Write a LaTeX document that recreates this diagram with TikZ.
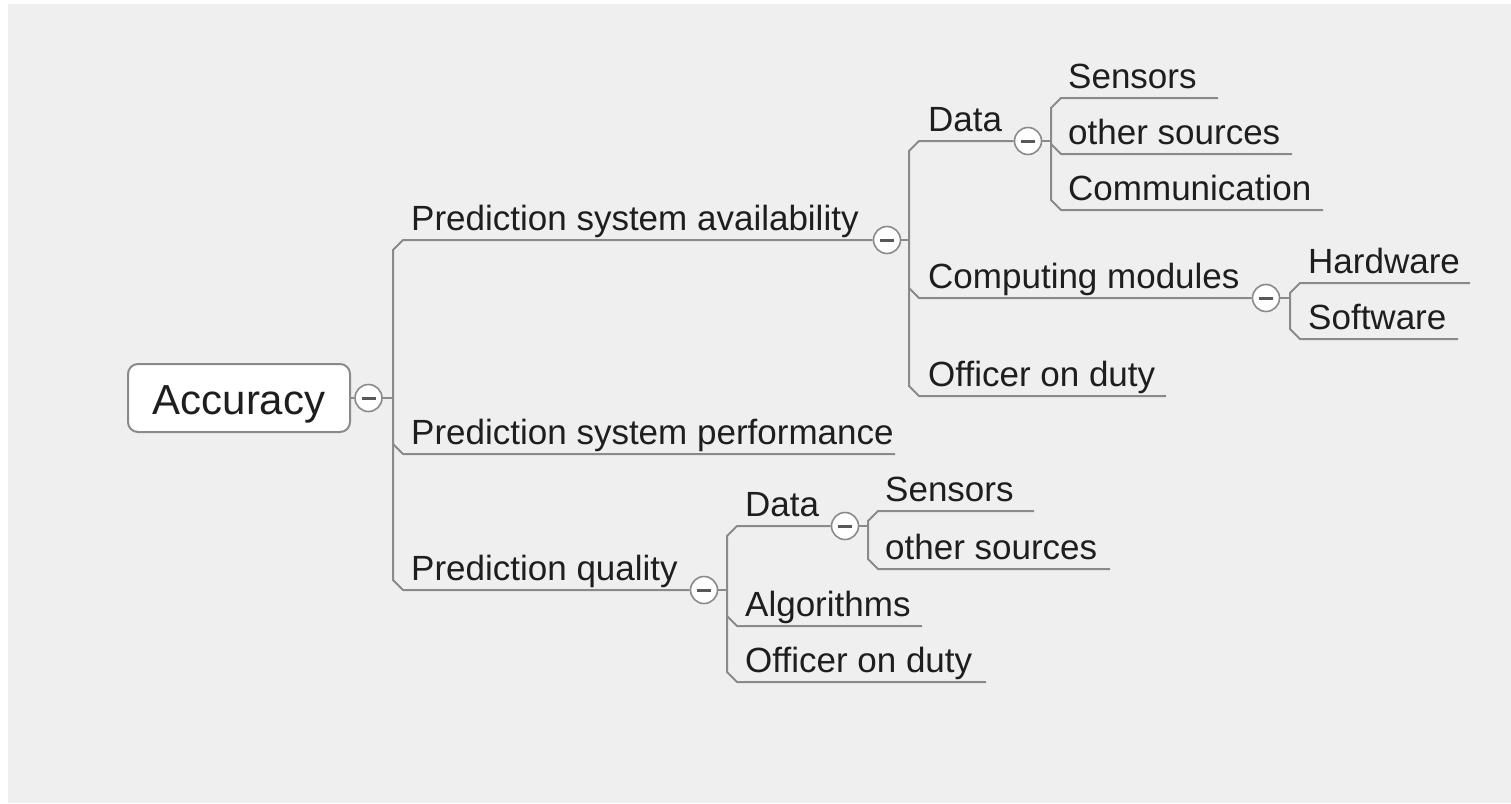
\documentclass[tikz,border=0pt]{standalone}
\usepackage{fontspec}
\setmainfont{Liberation Sans}
\usetikzlibrary{calc}
\definecolor{bg}{HTML}{EFEFEF}
\definecolor{edge}{HTML}{8A8A8A}
\definecolor{ink}{HTML}{1E1E1E}
\definecolor{minus}{HTML}{585858}
\tikzset{
  conn/.style={draw=edge, line width=2pt, line join=round},
  lbl/.style={anchor=base west, inner sep=0pt, text=ink, font=\fontsize{35}{40}\selectfont},
  tog/.style={circle, draw=edge, fill=white, line width=1.6pt, minimum size=27pt, inner sep=0pt,
    path picture={\draw[line width=3pt, draw=minus]
      ([xshift=-7pt]path picture bounding box.center) -- ([xshift=7pt]path picture bounding box.center);}},
  rootbox/.style={draw=edge, line width=2pt, fill=white, rounded corners=10pt,
    minimum width=222pt, minimum height=68pt, inner sep=0pt, text=ink,
    text height=32pt, text depth=0pt, font=\fontsize{42}{48}\selectfont},
}
\begin{document}
\begin{tikzpicture}[x=1pt,y=-1pt]
\useasboundingbox (0,0) rectangle (1511,803);
\fill[white] (0,0) rectangle (1511,803);
\fill[bg] (8,4) rectangle (1511,803);

% central topic
\node[rootbox] (root) at (239,398) {Accuracy};
\node[tog] (t0) at (368.5,398) {};
\coordinate (v0) at (393,398);
\draw[conn] (root.east) -- (t0.west);
\draw[conn] (t0.east) -- (v0);

% first level
\node[tog] (t1) at (887,240) {};
\node[tog] (t2) at (704,590) {};
\coordinate (psa-a) at (403,240);
\coordinate (psp-a) at (403,454);
\coordinate (psp-b) at (895,454);
\coordinate (pq-a) at (403,590);
\draw[conn] (t1.west) -- (psa-a) -- ++(-10,10) -- ([shift={(-10,-10)}]pq-a) -- (pq-a) -- (t2.west);
\draw[conn] ([shift={(-10,-10)}]psp-a) -- (psp-a) -- (psp-b);
\node[lbl] (psa) at ([shift={(8,-9.5)}]psa-a) {Prediction system availability};
\node[lbl] (psp) at ([shift={(8,-9.5)}]psp-a) {Prediction system performance};
\node[lbl] (pq)  at ([shift={(8,-9.5)}]pq-a)  {Prediction quality};

% availability branch
\coordinate (v1) at (909,240);
\draw[conn] (t1.east) -- (v1);
\node[tog] (tA) at (1028,141) {};
\node[tog] (tC) at (1266,298) {};
\coordinate (da-a) at (919,141);
\coordinate (cm-a) at (919,298);
\coordinate (oa-a) at (919,396);
\coordinate (oa-b) at (1166,396);
\draw[conn] (tA.west) -- (da-a) -- ++(-10,10) -- ([shift={(-10,-10)}]oa-a) -- (oa-a) -- (oa-b);
\draw[conn] ([shift={(-10,-10)}]cm-a) -- (cm-a) -- (tC.west);
\node[lbl] (da) at ([shift={(9,-9.5)}]da-a) {Data};
\node[lbl] (cm) at ([shift={(9,-9.5)}]cm-a) {Computing modules};
\node[lbl] (oa) at ([shift={(9,-9.5)}]oa-a) {Officer on duty};

% data sources (availability)
\coordinate (vA) at (1051,141);
\draw[conn] (tA.east) -- (vA);
\coordinate (sa-a) at (1061,98);   \coordinate (sa-b) at (1218,98);
\coordinate (osa-a) at (1061,154); \coordinate (osa-b) at (1292,154);
\coordinate (com-a) at (1061,210); \coordinate (com-b) at (1323,210);
\draw[conn] (sa-b) -- (sa-a) -- ++(-10,10) -- ([shift={(-10,-10)}]com-a) -- (com-a) -- (com-b);
\draw[conn] ([shift={(-10,-10)}]osa-a) -- (osa-a) -- (osa-b);
\node[lbl] (sa)  at ([shift={(7,-9.5)}]sa-a)  {Sensors};
\node[lbl] (osa) at ([shift={(7,-9.5)}]osa-a) {other sources};
\node[lbl] (com) at ([shift={(7,-9.5)}]com-a) {Communication};

% computing modules
\coordinate (vC) at (1290,298);
\draw[conn] (tC.east) -- (vC);
\coordinate (hw-a) at (1300,283); \coordinate (hw-b) at (1470,283);
\coordinate (sw-a) at (1300,339); \coordinate (sw-b) at (1458,339);
\draw[conn] (hw-b) -- (hw-a) -- ++(-10,10) -- ([shift={(-10,-10)}]sw-a) -- (sw-a) -- (sw-b);
\node[lbl] (hw) at ([shift={(8,-9.5)}]hw-a) {Hardware};
\node[lbl] (sw) at ([shift={(8,-9.5)}]sw-a) {Software};

% quality branch
\coordinate (v2) at (727,590);
\draw[conn] (t2.east) -- (v2);
\node[tog] (tQ) at (845,526) {};
\coordinate (dq-a) at (737,526);
\coordinate (al-a) at (737,626);  \coordinate (al-b) at (922,626);
\coordinate (oq-a) at (737,682);  \coordinate (oq-b) at (986,682);
\draw[conn] (tQ.west) -- (dq-a) -- ++(-10,10) -- ([shift={(-10,-10)}]oq-a) -- (oq-a) -- (oq-b);
\draw[conn] ([shift={(-10,-10)}]al-a) -- (al-a) -- (al-b);
\node[lbl] (dq) at ([shift={(8,-9.5)}]dq-a) {Data};
\node[lbl] (al) at ([shift={(8,-9.5)}]al-a) {Algorithms};
\node[lbl] (oq) at ([shift={(8,-9.5)}]oq-a) {Officer on duty};

% data sources (quality)
\coordinate (vQ) at (868,526);
\draw[conn] (tQ.east) -- (vQ);
\coordinate (sq-a) at (878,511);  \coordinate (sq-b) at (1034,511);
\coordinate (osq-a) at (878,569); \coordinate (osq-b) at (1110,569);
\draw[conn] (sq-b) -- (sq-a) -- ++(-10,10) -- ([shift={(-10,-10)}]osq-a) -- (osq-a) -- (osq-b);
\node[lbl] (sq)  at ([shift={(7,-9.5)}]sq-a)  {Sensors};
\node[lbl] (osq) at ([shift={(7,-9.5)}]osq-a) {other sources};
\end{tikzpicture}
\end{document}
